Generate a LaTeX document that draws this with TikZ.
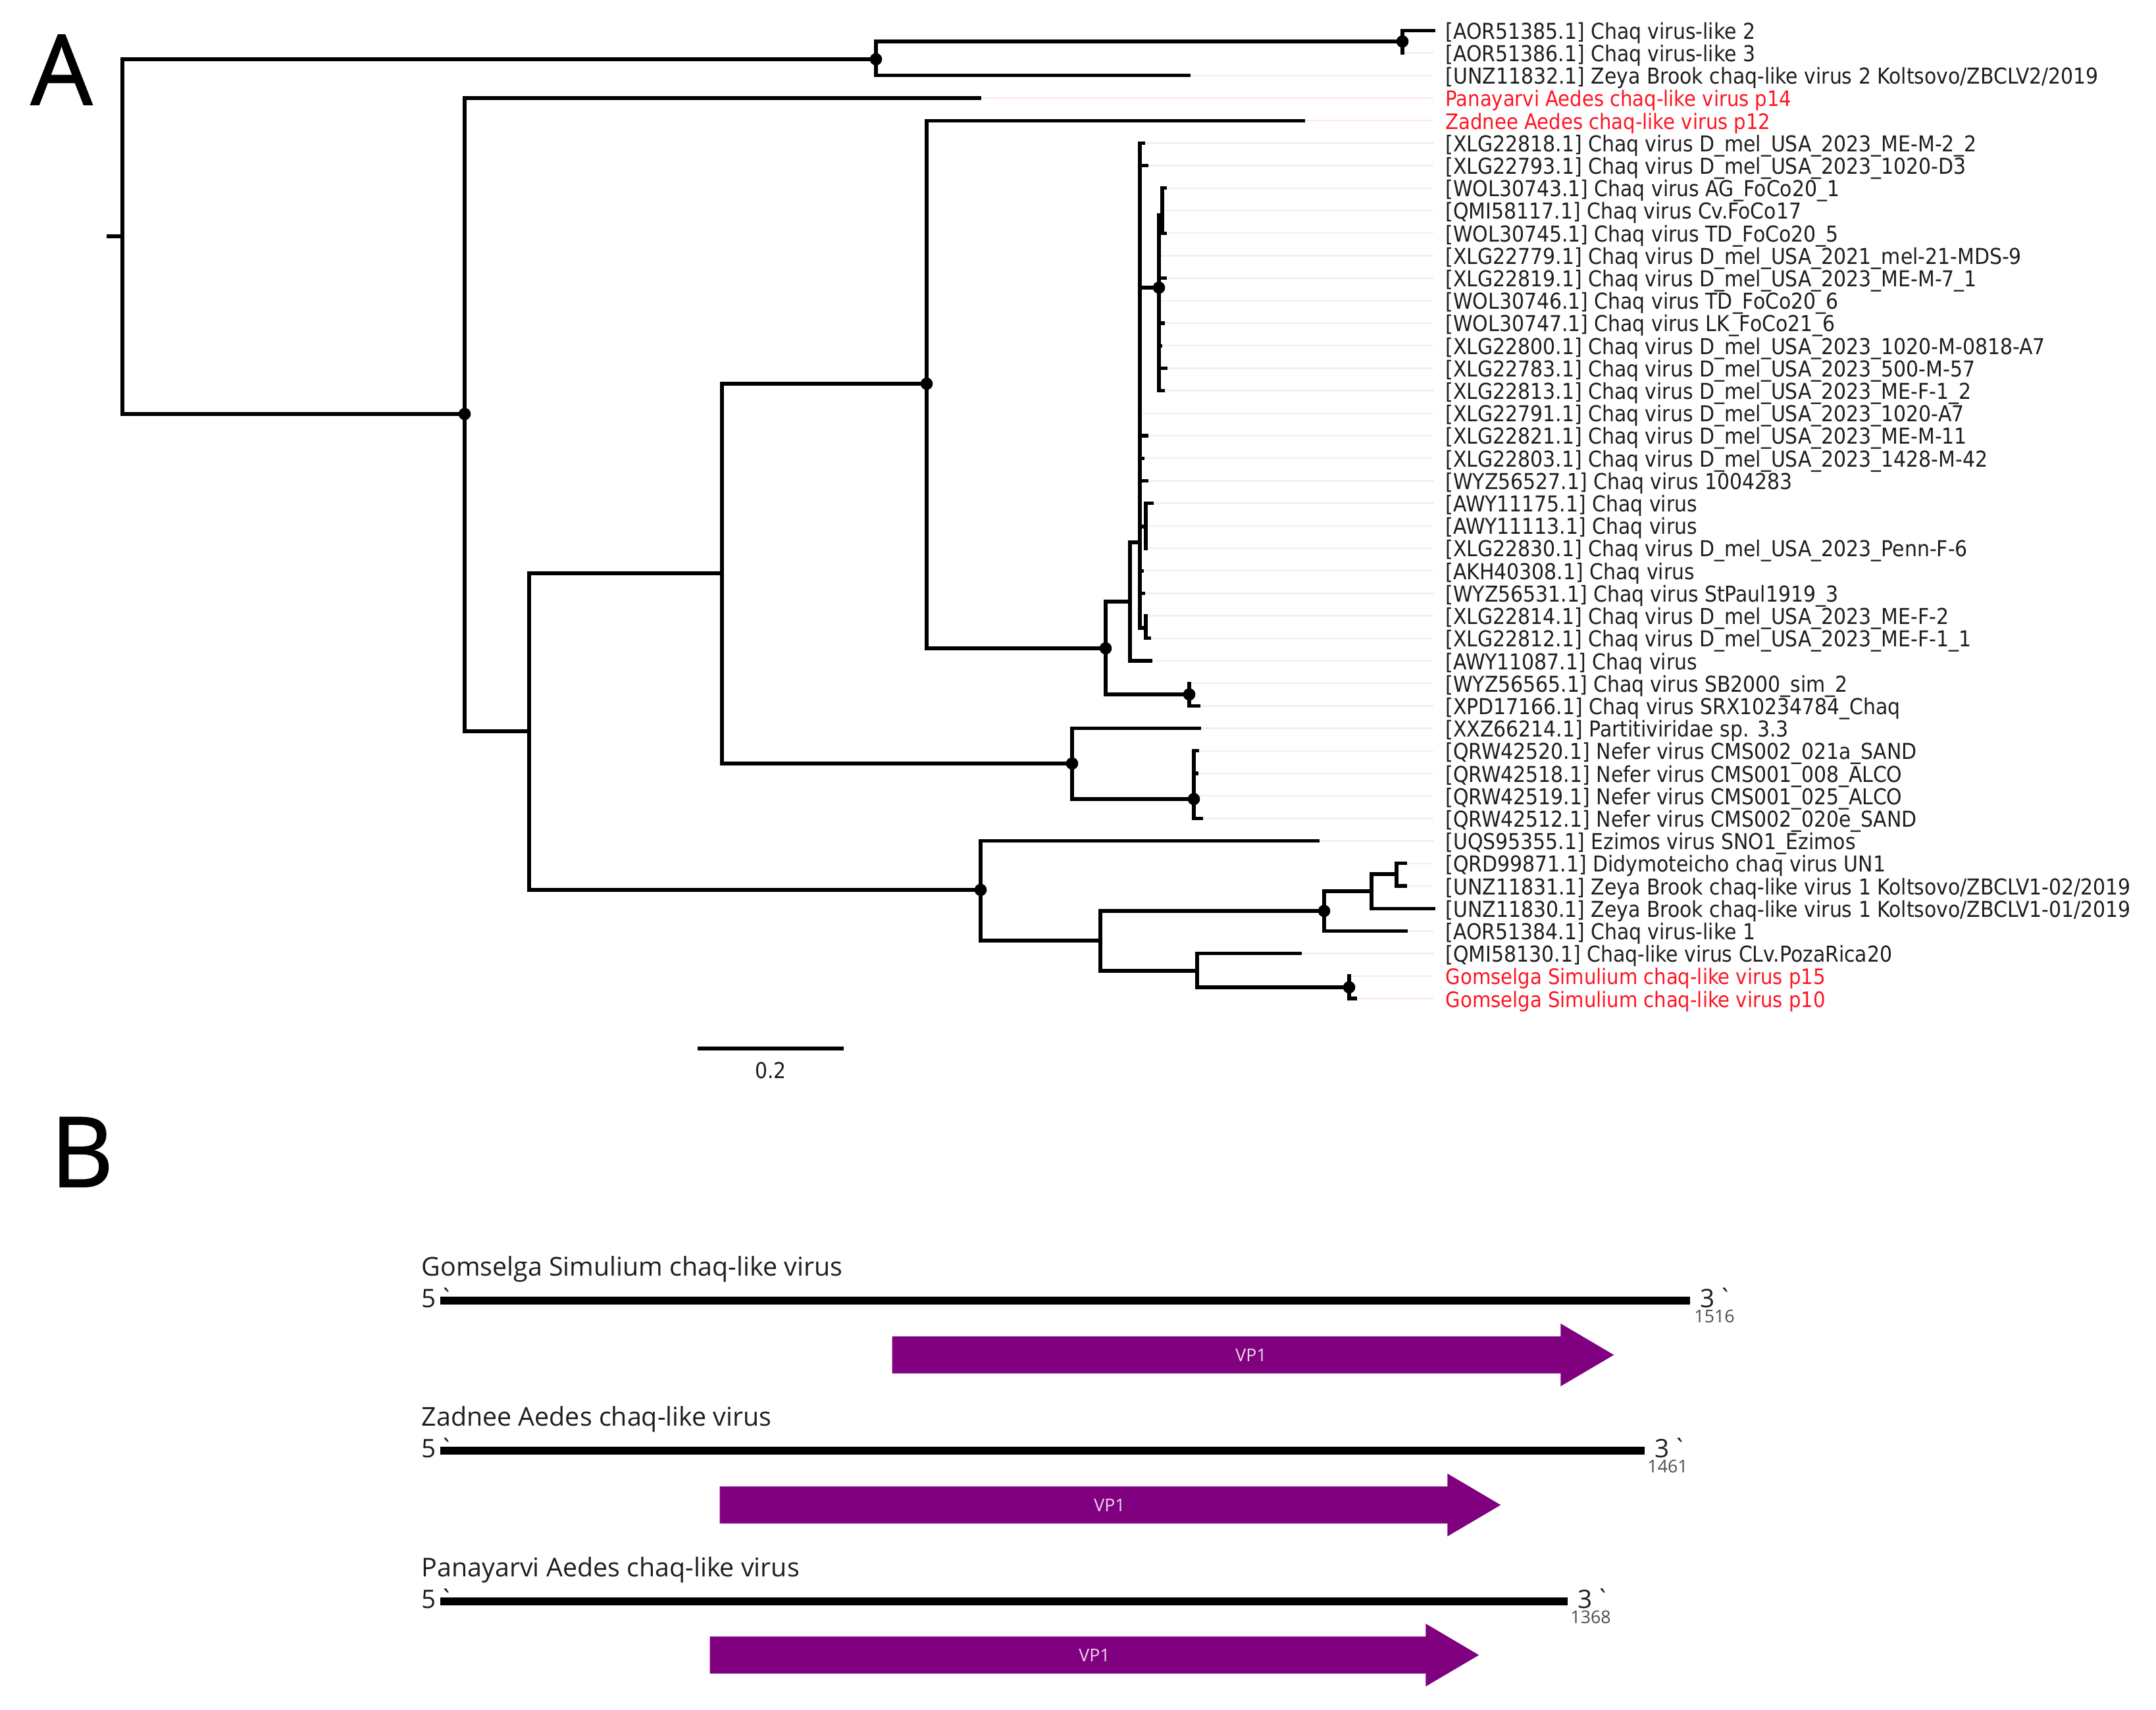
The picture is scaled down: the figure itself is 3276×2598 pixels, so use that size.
\documentclass[tikz,border=0pt]{standalone}
\usepackage{fontspec}
\usepackage{tikz}
\usetikzlibrary{shapes.arrows}
\setmainfont{Open Sans}
\newfontfamily\leaffont{DejaVu Sans Condensed}
\newfontfamily\endfont{Open Sans}
\newfontfamily\panelfont{Open Sans}[FakeBold=1.2]
\definecolor{labk}{RGB}{30,30,30}
\definecolor{labr}{RGB}{255,20,35}
\definecolor{runk}{RGB}{240,240,240}
\definecolor{runr}{RGB}{255,230,230}
\definecolor{genepurple}{RGB}{128,0,128}
\definecolor{genetxt}{RGB}{235,215,235}
\newcommand{\branchw}{1.45pt}
\tikzset{
  branch/.style={line width=\branchw,line cap=rect},
  run/.style={line width=0.7pt},
  dot/.style={circle,fill=black,inner sep=0pt,minimum size=5.3pt},
  leaflabel/.style={anchor=base west,inner sep=0pt},
  leafk/.style={leaflabel,text=labk,font=\leaffont\fontsize{9.45}{11}\selectfont},
  leafr/.style={leaflabel,text=labr,font=\leaffont\fontsize{9.2}{11}\selectfont},
  panel/.style={anchor=base west,inner sep=0pt,font=\panelfont\fontsize{42}{46}\selectfont},
  title/.style={anchor=base west,inner sep=0pt,text=labk,font=\fontsize{11.2}{14}\selectfont},
  endlabel/.style={anchor=base west,inner sep=0pt,text=labk,font=\endfont\fontsize{11}{13}\selectfont},
  lenlabel/.style={anchor=base,inner sep=0pt,text=black!70,font=\fontsize{7.6}{9}\selectfont},
  genome/.style={line width=3.3pt},
  gene/.style={single arrow,fill=genepurple,anchor=tail,inner xsep=0pt,inner ysep=4.8pt,
    text height=6pt,text depth=0pt,single arrow head extend=5.55pt,single arrow tip angle=61},
  genelabel/.style={inner sep=0pt,text=genetxt,font=\fontsize{7.6}{9}\selectfont}
}
\begin{document}
\begin{tikzpicture}[x=0.01cm,y=-0.01cm]
  \useasboundingbox (0,0) rectangle (3276,2598);
  % leaves
  \foreach \k/\tipx/\txt/\col in {
    1/2178/{[AOR51385.1] Chaq virus-like 2}/k,
    2/2131/{[AOR51386.1] Chaq virus-like 3}/k,
    3/1806/{[UNZ11832.1] Zeya Brook chaq-like virus 2 Koltsovo/ZBCLV2/2019}/k,
    4/1488/{Panayarvi Aedes chaq-like virus p14}/r,
    5/1980/{Zadnee Aedes chaq-like virus p12}/r,
    6/1737/{[XLG22818.1] Chaq virus D\_mel\_USA\_2023\_ME-M-2\_2}/k,
    7/1742/{[XLG22793.1] Chaq virus D\_mel\_USA\_2023\_1020-D3}/k,
    8/1770/{[WOL30743.1] Chaq virus AG\_FoCo20\_1}/k,
    9/1766/{[QMI58117.1] Chaq virus Cv.FoCo17}/k,
    10/1770/{[WOL30745.1] Chaq virus TD\_FoCo20\_5}/k,
    11/1761/{[XLG22779.1] Chaq virus D\_mel\_USA\_2021\_mel-21-MDS-9}/k,
    12/1770/{[XLG22819.1] Chaq virus D\_mel\_USA\_2023\_ME-M-7\_1}/k,
    13/1761/{[WOL30746.1] Chaq virus TD\_FoCo20\_6}/k,
    14/1767/{[WOL30747.1] Chaq virus LK\_FoCo21\_6}/k,
    15/1763/{[XLG22800.1] Chaq virus D\_mel\_USA\_2023\_1020-M-0818-A7}/k,
    16/1771/{[XLG22783.1] Chaq virus D\_mel\_USA\_2023\_500-M-57}/k,
    17/1767/{[XLG22813.1] Chaq virus D\_mel\_USA\_2023\_ME-F-1\_2}/k,
    18/1732/{[XLG22791.1] Chaq virus D\_mel\_USA\_2023\_1020-A7}/k,
    19/1742/{[XLG22821.1] Chaq virus D\_mel\_USA\_2023\_ME-M-11}/k,
    20/1736/{[XLG22803.1] Chaq virus D\_mel\_USA\_2023\_1428-M-42}/k,
    21/1742/{[WYZ56527.1] Chaq virus 1004283}/k,
    22/1750/{[AWY11175.1] Chaq virus}/k,
    23/1741/{[AWY11113.1] Chaq virus}/k,
    24/1741/{[XLG22830.1] Chaq virus D\_mel\_USA\_2023\_Penn-F-6}/k,
    25/1735/{[AKH40308.1] Chaq virus}/k,
    26/1737/{[WYZ56531.1] Chaq virus StPaul1919\_3}/k,
    27/1741/{[XLG22814.1] Chaq virus D\_mel\_USA\_2023\_ME-F-2}/k,
    28/1746/{[XLG22812.1] Chaq virus D\_mel\_USA\_2023\_ME-F-1\_1}/k,
    29/1748/{[AWY11087.1] Chaq virus}/k,
    30/1807/{[WYZ56565.1] Chaq virus SB2000\_sim\_2}/k,
    31/1821/{[XPD17166.1] Chaq virus SRX10234784\_Chaq}/k,
    32/1822/{[XXZ66214.1] Partitiviridae sp. 3.3}/k,
    33/1819/{[QRW42520.1] Nefer virus CMS002\_021a\_SAND}/k,
    34/1818/{[QRW42518.1] Nefer virus CMS001\_008\_ALCO}/k,
    35/1814/{[QRW42519.1] Nefer virus CMS001\_025\_ALCO}/k,
    36/1825/{[QRW42512.1] Nefer virus CMS002\_020e\_SAND}/k,
    37/2002/{[UQS95355.1] Ezimos virus SNO1\_Ezimos}/k,
    38/2135/{[QRD99871.1] Didymoteicho chaq virus UN1}/k,
    39/2135/{[UNZ11831.1] Zeya Brook chaq-like virus 1 Koltsovo/ZBCLV1-02/2019}/k,
    40/2178/{[UNZ11830.1] Zeya Brook chaq-like virus 1 Koltsovo/ZBCLV1-01/2019}/k,
    41/2136/{[AOR51384.1] Chaq virus-like 1}/k,
    42/1975/{[QMI58130.1] Chaq-like virus CLv.PozaRica20}/k,
    43/2050/{Gomselga Simulium chaq-like virus p15}/r,
    44/2059/{Gomselga Simulium chaq-like virus p10}/r}{
    \pgfmathsetmacro{\rowy}{46.4+34.2*(\k-1)}
    \coordinate (t\k) at (\tipx,\rowy);
    \coordinate (e\k) at (2178,\rowy);
    \node[leaf\col] (l\k) at (2196,\rowy+13) {\txt};
    \draw[run,draw=run\col] (t\k) -- (e\k);
  }
  % inner nodes of the tree
  \coordinate (stub) at (165,359);
  \coordinate (nroot) at (186,359);
  \coordinate (ntop) at (1331,90);
  \coordinate (ntopb) at (2131,63);
  \coordinate (nmain) at (706,629);
  \coordinate (nsplit) at (804,1111);
  \coordinate (nupper) at (1097,871);
  \coordinate (nchaq) at (1408,583);
  \coordinate (nchaqb) at (1680,985);
  \coordinate (ncrown) at (1717,914);
  \coordinate (ncore) at (1732,824);
  \coordinate (nfoco) at (1761,437);
  \coordinate (nfocob) at (1766,327);
  \coordinate (nawy) at (1741,800);
  \coordinate (nmef) at (1741,954);
  \coordinate (nsim) at (1807,1055);
  \coordinate (nnef) at (1629,1160);
  \coordinate (nnefb) at (1814,1214);
  \coordinate (nlow) at (1490,1352);
  \coordinate (nlowb) at (1672,1429);
  \coordinate (nzeya) at (2012,1384);
  \coordinate (nzeyab) at (2084,1354);
  \coordinate (nzeyac) at (2122,1328);
  \coordinate (ngom) at (1819,1475);
  \coordinate (ngomb) at (2050,1500);
  \draw[branch] (stub) -- (nroot);
  \foreach \a/\b in {nroot/ntop,nroot/nmain,ntop/ntopb,ntop/t3,ntopb/t1,ntopb/t2,
    nmain/t4,nmain/nsplit,nsplit/nupper,nsplit/nlow,nupper/nchaq,nupper/nnef,
    nchaq/t5,nchaq/nchaqb,nchaqb/ncrown,nchaqb/nsim,ncrown/ncore,ncrown/t29,
    ncore/t6,ncore/t7,ncore/nfoco,ncore/t18,ncore/t19,ncore/t20,ncore/t21,ncore/nawy,
    ncore/t25,ncore/t26,ncore/nmef,nfoco/nfocob,nfocob/t8,nfocob/t9,nfocob/t10,
    nfoco/t11,nfoco/t12,nfoco/t13,nfoco/t14,nfoco/t15,nfoco/t16,nfoco/t17,
    nawy/t22,nawy/t23,nawy/t24,nmef/t27,nmef/t28,nsim/t30,nsim/t31,
    nnef/t32,nnef/nnefb,nnefb/t33,nnefb/t34,nnefb/t35,nnefb/t36,
    nlow/t37,nlow/nlowb,nlowb/nzeya,nlowb/ngom,nzeya/nzeyab,nzeya/t41,
    nzeyab/nzeyac,nzeyab/t40,nzeyac/t38,nzeyac/t39,ngom/t42,ngom/ngomb,ngomb/t43,ngomb/t44}
    \draw[branch] (\a) |- (\b);
  \foreach \n in {ntop,ntopb,nmain,nchaq,nchaqb,nfoco,nsim,nnef,nnefb,nlow,nzeya,ngomb}
    \node[dot] (dot\n) at (\n) {};
  % scale bar
  \coordinate (bara) at (1060,1593);
  \coordinate (barb) at (1282,1593);
  \draw[line width=1.7pt] (bara) -- (barb);
  \node[leafk,anchor=base] (barlabel) at (1171,1638) {0.2};
  % panels
  \node[panel] (panela) at (46,159) {A};
  \node[panel] (panelb) at (76,1803) {B};
  % genomes
  \node[title] (name1) at (640,1938) {Gomselga Simulium chaq-like virus};
  \node[title] (name2) at (640,2166) {Zadnee Aedes chaq-like virus};
  \node[title] (name3) at (640,2395) {Panayarvi Aedes chaq-like virus};
  \foreach \i/\y/\xe/\len/\xc/\tail/\ay/\tx/\alen in {
    1/1976/2568/1516/2605/1355/2058.5/1901/1096,
    2/2204/2499/1461/2534/1093/2286.5/1686/1186,
    3/2433/2382/1368/2417/1078/2514.5/1663/1168}{
    \coordinate (gs\i) at (669,\y);
    \coordinate (ge\i) at (\xe,\y);
    \draw[genome] (gs\i) -- (ge\i);
    \node[endlabel] (five\i) at (640,\y+10) {5\hspace{0.12em}`};
    \node[endlabel] (three\i) at (\xe+15,\y+10) {3\hspace{0.12em}`};
    \node[lenlabel] (len\i) at (\xc,\y+33) {\len};
    \node[gene,minimum height=\alen*0.2845pt,minimum width=26.7pt] (vp\i) at (\tail,\ay) {};
    \node[genelabel] (vptext\i) at (\tx,\ay) {VP1};
  }
\end{tikzpicture}
\end{document}
